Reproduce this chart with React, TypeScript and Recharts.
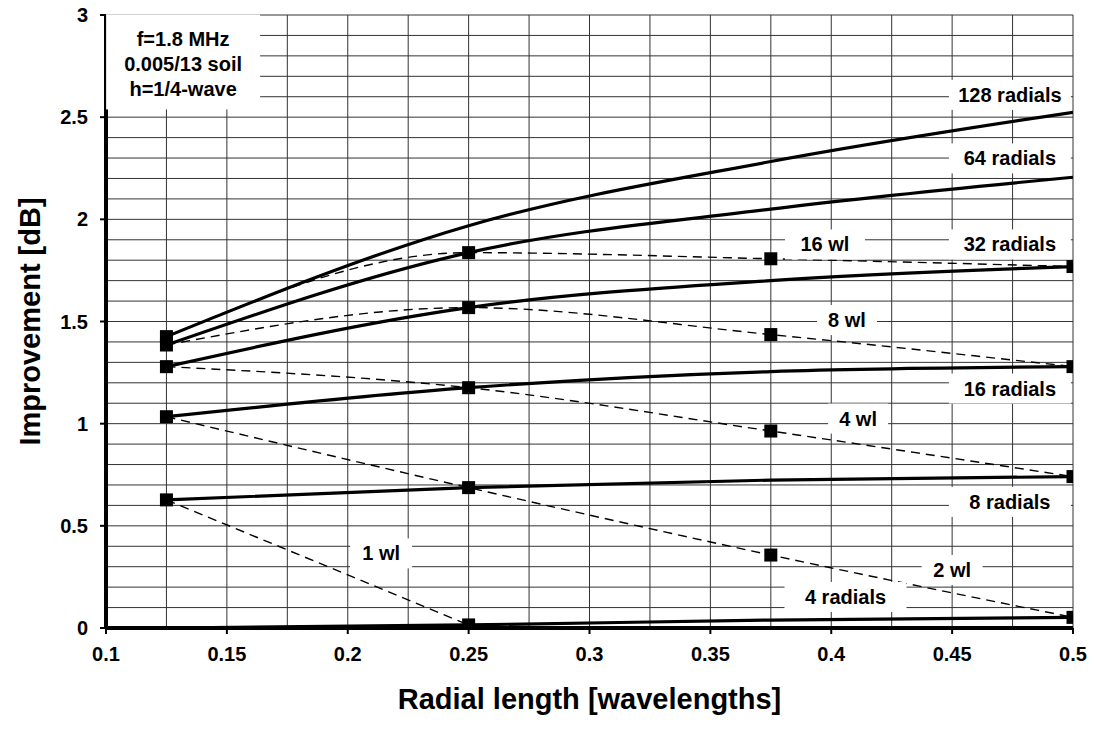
import React from "react";
import { LineChart, Line, XAxis, YAxis, ReferenceLine, ReferenceDot } from "recharts";

const font = "'Liberation Sans', Arial, Helvetica, sans-serif";

// radial length in wavelengths
const radialLength = [0.125, 0.25, 0.375, 0.5];

// constant radial count (solid curves)
const radials4 = [0.0, 0.015, 0.039, 0.052];
const radials8 = [0.627, 0.687, 0.724, 0.741];
const radials16 = [1.034, 1.176, 1.255, 1.279];
const radials32 = [1.279, 1.568, 1.7, 1.769];
const radials64 = [1.385, 1.837, 2.05, 2.206];
const radials128 = [1.426, 1.969, 2.283, 2.524];

// constant total wire length (dashed curves with markers)
const wire1 = [0.627, 0.015];
const wire2 = [1.034, 0.687, 0.357, 0.052];
const wire4 = [1.279, 1.176, 0.964, 0.741];
const wire8 = [1.385, 1.568, 1.436, 1.279];
const wire16 = [1.426, 1.837, 1.807, 1.769];

const xTicks = [0.1, 0.15, 0.2, 0.25, 0.3, 0.35, 0.4, 0.45, 0.5];
const yTicks = [0, 0.5, 1, 1.5, 2, 2.5, 3];
const gridX = [0.1, 0.125, 0.15, 0.175, 0.2, 0.225, 0.25, 0.275, 0.3, 0.325, 0.35, 0.375, 0.4, 0.425, 0.45, 0.475, 0.5];
const gridY = [
  0, 0.1, 0.2, 0.3, 0.4, 0.5, 0.6, 0.7, 0.8, 0.9, 1, 1.1, 1.2, 1.3, 1.4, 1.5, 1.6, 1.7, 1.8, 1.9, 2, 2.1, 2.2, 2.3,
  2.4, 2.5, 2.6, 2.7, 2.8, 2.9, 3
];

const infoLines = ["f=1.8 MHz", "0.005/13 soil", "h=1/4-wave"];

// curve labels: text, anchor in data units, white box width
const labels = [
  { text: "128 radials", x: 0.4739, y: 2.609, w: 122 },
  { text: "64 radials", x: 0.4739, y: 2.298, w: 122 },
  { text: "32 radials", x: 0.4739, y: 1.877, w: 122 },
  { text: "16 wl", x: 0.3974, y: 1.877, w: 80 },
  { text: "8 wl", x: 0.4065, y: 1.507, w: 60 },
  { text: "16 radials", x: 0.4739, y: 1.172, w: 122 },
  { text: "4 wl", x: 0.4111, y: 1.025, w: 60 },
  { text: "8 radials", x: 0.4739, y: 0.617, w: 122 },
  { text: "2 wl", x: 0.45, y: 0.284, w: 61 },
  { text: "4 radials", x: 0.4059, y: 0.152, w: 122 },
  { text: "1 wl", x: 0.2138, y: 0.365, w: 62 }
];

const rows = radialLength.map((x, i) => ({
  x,
  r4: radials4[i],
  r8: radials8[i],
  r16: radials16[i],
  r32: radials32[i],
  r64: radials64[i],
  r128: radials128[i],
  w1: wire1[i],
  w2: wire2[i],
  w4: wire4[i],
  w8: wire8[i],
  w16: wire16[i]
}));

const solidKeys = ["r4", "r8", "r16", "r32", "r64", "r128"];
const dashedKeys = ["w1", "w2", "w4", "w8", "w16"];

function square(props: any) {
  const { cx, cy, index, dataKey } = props;
  if (cx == null || cy == null || Number.isNaN(cy)) {
    return <g key={`${dataKey}-${index}`} />;
  }
  return <rect key={`${dataKey}-${index}`} x={cx - 6.5} y={cy - 6.5} width={13} height={13} fill="#000" />;
}

function labelShape(text: string, w: number) {
  return (props: any) => {
    const { cx, cy } = props;
    return (
      <g>
        <rect x={cx - w / 2} y={cy - 15} width={w} height={30} fill="#fff" />
        <text x={cx} y={cy} textAnchor="middle" dominantBaseline="central" fontFamily={font} fontWeight="bold" fontSize={20} fill="#000">
          {text}
        </text>
      </g>
    );
  };
}

function infoShape(props: any) {
  const { cx, cy } = props;
  return (
    <g>
      <rect x={cx - 77} y={cy - 50} width={154} height={95} fill="#fff" />
      {infoLines.map((line, i) => (
        <text key={line} x={cx} y={cy + (i - 1) * 25} textAnchor="middle" dominantBaseline="central" fontFamily={font} fontWeight="bold" fontSize={20} fill="#000">
          {line}
        </text>
      ))}
    </g>
  );
}

export default function App() {
  const tick = { fill: "#000", fontSize: 20, fontWeight: "bold", fontFamily: font };
  return (
    <div style={{ width: 1096, height: 732, background: "#fff" }}>
      <style>{"body{margin:0}"}</style>
      <LineChart width={1096} height={732} data={rows} margin={{ top: 15, right: 23, bottom: 14, left: 0 }}>
        <XAxis
          type="number"
          dataKey="x"
          domain={[0.1, 0.5]}
          ticks={xTicks}
          tick={tick}
          tickSize={6}
          tickMargin={13}
          height={90}
          allowDataOverflow
          axisLine={{ stroke: "#000", strokeWidth: 4 }}
          tickLine={{ stroke: "#000", strokeWidth: 2 }}
          label={{ value: "Radial length [wavelengths]", position: "insideBottom", offset: 9, style: { fill: "#000", fontSize: 29, fontWeight: "bold", fontFamily: font } }}
        />
        <YAxis
          type="number"
          domain={[0, 3]}
          ticks={yTicks}
          tick={tick}
          tickSize={6}
          tickMargin={12}
          width={106}
          allowDataOverflow
          axisLine={{ stroke: "#000", strokeWidth: 4 }}
          tickLine={{ stroke: "#000", strokeWidth: 2 }}
          label={{ value: "Improvement [dB]", angle: -90, position: "insideLeft", offset: 30, style: { textAnchor: "middle", fill: "#000", fontSize: 29, fontWeight: "bold", fontFamily: font } }}
        />
        {gridX.map((v) => (
          <ReferenceLine key={`gx${v}`} x={v} stroke="#333" strokeWidth={1} />
        ))}
        {gridY.map((v) => (
          <ReferenceLine key={`gy${v}`} y={v} stroke="#333" strokeWidth={1} />
        ))}
        {solidKeys.map((k) => (
          <Line key={k} type="monotone" dataKey={k} stroke="#000" strokeWidth={3.2} dot={false} activeDot={false} isAnimationActive={false} />
        ))}
        {dashedKeys.map((k) => (
          <Line key={k} type="monotone" dataKey={k} stroke="#000" strokeWidth={1.4} strokeDasharray="9 6" dot={square} activeDot={false} isAnimationActive={false} />
        ))}
        <ReferenceDot x={0.1319} y={2.758} r={0} shape={infoShape} />
        {labels.map((l) => (
          <ReferenceDot key={l.text} x={l.x} y={l.y} r={0} shape={labelShape(l.text, l.w)} />
        ))}
      </LineChart>
    </div>
  );
}
